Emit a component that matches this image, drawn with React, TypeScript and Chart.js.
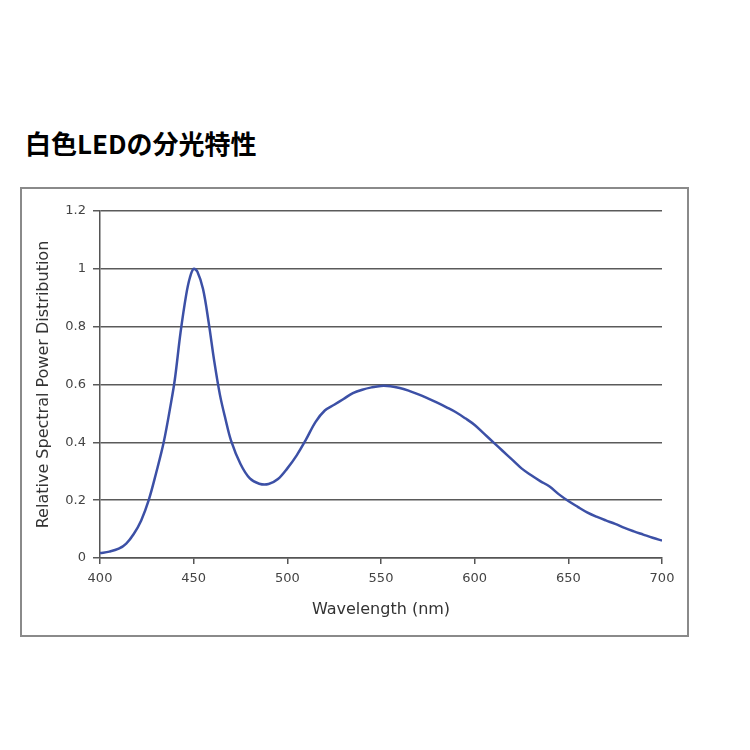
import React, { useEffect, useRef } from "react";
import { Chart, registerables } from "chart.js";

Chart.register(...registerables);

const TITLE = "白色LEDの分光特性";
const X_TITLE = "Wavelength (nm)";
const Y_TITLE = "Relative Spectral Power Distribution";

const wavelengths = [
  400, 405, 410, 414, 418, 422, 426, 430, 434, 438, 440, 443, 446, 448, 450, 452, 455, 458, 461, 464,
  467, 470, 475, 480, 485, 490, 495, 500, 505, 510, 515, 520, 525, 530, 535, 540, 545, 550, 555,
  560, 565, 570, 575, 580, 585, 590, 595, 600, 605, 610, 615, 620, 625, 630, 635, 640, 645, 650,
  655, 660, 665, 670, 675, 680, 685, 690, 695, 700,
];
const power = [
  0.017, 0.022, 0.032, 0.05, 0.083, 0.13, 0.2, 0.295, 0.4, 0.54, 0.62, 0.78, 0.91, 0.97, 1.0, 0.99, 0.93, 0.815, 0.68, 0.565,
  0.48, 0.405, 0.325, 0.275, 0.257, 0.256, 0.273, 0.31, 0.355, 0.41, 0.47, 0.51, 0.53, 0.55, 0.57, 0.582, 0.59, 0.595, 0.594,
  0.588, 0.578, 0.566, 0.552, 0.537, 0.521, 0.504, 0.483, 0.46, 0.43, 0.4, 0.37, 0.34, 0.31, 0.287, 0.266, 0.247, 0.22, 0.197,
  0.177, 0.158, 0.143, 0.13, 0.118, 0.104, 0.092, 0.081, 0.07, 0.06,
];

export default function App() {
  const ref = useRef<HTMLCanvasElement | null>(null);

  useEffect(() => {
    if (!ref.current) return;
    const chart = new Chart(ref.current, {
      type: "line",
      data: {
        datasets: [
          {
            data: wavelengths.map((w, i) => ({ x: w, y: power[i] })),
            borderColor: "#3c50a6",
            borderWidth: 2.5,
            pointRadius: 0,
            tension: 0.35,
            fill: false,
          },
        ],
      },
      options: {
        animation: false,
        responsive: false,
        layout: { padding: { left: 0, top: 22, right: 25, bottom: 0 } },
        plugins: { legend: { display: false }, tooltip: { enabled: false } },
        scales: {
          x: {
            type: "linear",
            min: 400,
            max: 700,
            afterFit: (s: any) => {
              s.height = 77;
            },
            ticks: {
              stepSize: 50,
              color: "#444",
              padding: 7,
              font: { family: "DejaVu Sans", size: 13 },
            },
            grid: {
              drawOnChartArea: false,
              drawTicks: true,
              tickLength: 6,
              color: "#555",
              lineWidth: 1.5,
            },
            border: { color: "#555", width: 1.5 },
            title: {
              display: true,
              text: X_TITLE,
              color: "#333",
              font: { family: "DejaVu Sans", size: 16 },
              padding: { top: 0, bottom: 16 },
            },
          },
          y: {
            min: 0,
            max: 1.2,
            afterFit: (s: any) => {
              s.width = 78;
            },
            ticks: {
              stepSize: 0.2,
              color: "#444",
              padding: 7,
              font: { family: "DejaVu Sans", size: 13 },
              callback: (v: any) => String(Math.round(Number(v) * 10) / 10),
            },
            grid: {
              color: "#5a5a5a",
              lineWidth: 1.5,
              tickLength: 7,
            },
            border: { color: "#555", width: 1.5 },
            title: {
              display: true,
              text: Y_TITLE,
              color: "#333",
              font: { family: "DejaVu Sans", size: 16 },
              padding: { top: 12, bottom: 0 },
            },
          },
        },
      },
    });
    return () => chart.destroy();
  }, []);

  return (
    <div style={{ position: "absolute", left: 0, top: 0, width: 750, height: 750, background: "#fff" }}>
      <div
        style={{
          position: "absolute",
          left: 25,
          top: 127,
          fontFamily: "'Noto Sans CJK JP', sans-serif",
          fontWeight: 700,
          fontSize: 26,
          lineHeight: "32px",
          color: "#000",
          whiteSpace: "nowrap",
        }}
      >
        {TITLE}
      </div>
      <div
        style={{
          position: "absolute",
          left: 20,
          top: 187,
          width: 669,
          height: 450,
          boxSizing: "border-box",
          border: "2px solid #8a8a8a",
        }}
      >
        <canvas ref={ref} width={665} height={446} style={{ display: "block", width: 665, height: 446 }} />
      </div>
    </div>
  );
}
